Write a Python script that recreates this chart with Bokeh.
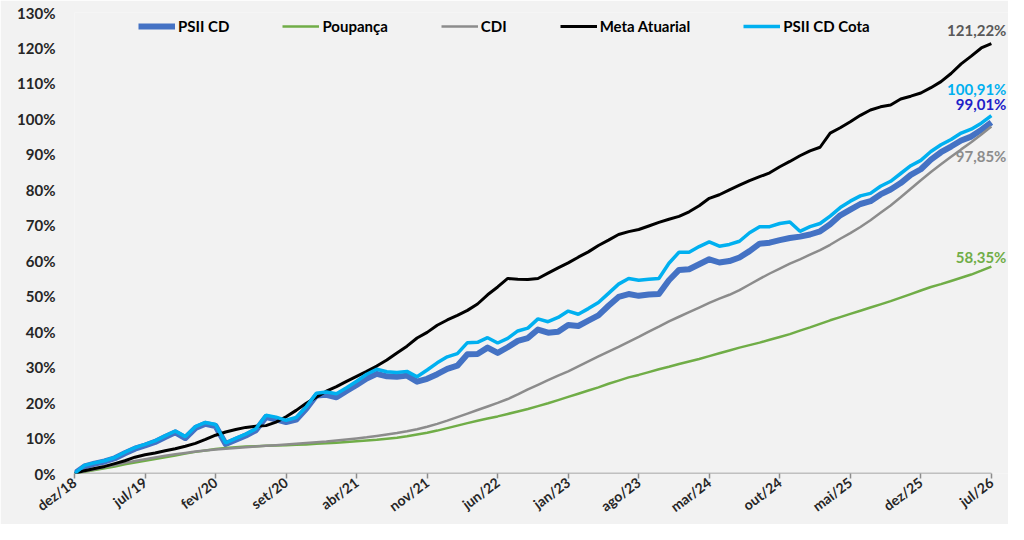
from bokeh.plotting import figure
from bokeh.models import Range1d, FixedTicker, Legend, LegendItem, Label
from bokeh.embed import file_html
from bokeh.resources import INLINE

tick_labels = ["dez/18", "jul/19", "fev/20", "set/20", "abr/21", "nov/21", "jun/22",
               "jan/23", "ago/23", "mar/24", "out/24", "mai/25", "dez/25", "jul/26"]
tick_positions = [0, 7, 14, 21, 28, 35, 42, 49, 56, 63, 70, 77, 84, 91]
months = list(range(92))

psii_cd = [0, 2.0, 2.8, 3.4, 4.3, 5.7, 7.0, 7.9, 8.9, 10.3,
           11.6, 10.0, 12.8, 14.0, 13.4, 8.3, 9.5, 10.7, 12.2, 15.9,
           15.3, 14.5, 15.2, 18.3, 22.0, 22.2, 21.5, 23.3, 25.0, 26.8,
           28.1, 27.4, 27.3, 27.6, 25.9, 26.7, 28.0, 29.5, 30.4, 33.6,
           33.7, 35.5, 34.0, 35.6, 37.4, 38.2, 40.6, 39.7, 40.0, 41.9,
           41.6, 43.1, 44.6, 47.3, 49.8, 50.6, 50.1, 50.5, 50.6, 54.5,
           57.4, 57.6, 59.0, 60.4, 59.5, 59.9, 60.9, 62.7, 64.8, 65.1,
           65.8, 66.4, 66.8, 67.4, 68.3, 70.3, 72.8, 74.4, 76.0, 76.8,
           78.7, 80.1, 81.9, 84.2, 85.8, 88.5, 90.6, 92.2, 93.9, 95.0,
           96.9, 99.01]

poupanca = [0, 0.5, 1.0, 1.5, 2.0, 2.6, 3.1, 3.6, 4.1, 4.6,
            5.1, 5.6, 6.1, 6.5, 6.9, 7.2, 7.4, 7.6, 7.7, 7.8,
            7.9, 8.0, 8.1, 8.2, 8.4, 8.5, 8.7, 8.9, 9.1, 9.3,
            9.5, 9.8, 10.1, 10.5, 11.0, 11.5, 12.1, 12.8, 13.5, 14.2,
            14.9, 15.5, 16.1, 16.8, 17.5, 18.2, 19.0, 19.8, 20.7, 21.6,
            22.5, 23.4, 24.3, 25.3, 26.2, 27.1, 27.8, 28.6, 29.4, 30.1,
            30.9, 31.6, 32.3, 33.1, 33.9, 34.7, 35.5, 36.2, 36.9, 37.7,
            38.5, 39.3, 40.3, 41.2, 42.2, 43.2, 44.1, 45.0, 45.9, 46.8,
            47.7, 48.6, 49.6, 50.6, 51.6, 52.6, 53.4, 54.3, 55.2, 56.1,
            57.2, 58.35]

cdi = [0, 0.6, 1.2, 1.8, 2.4, 3.0, 3.5, 4.0, 4.5, 5.0,
       5.4, 5.8, 6.2, 6.5, 6.8, 7.0, 7.2, 7.4, 7.6, 7.8,
       8.0, 8.2, 8.4, 8.6, 8.8, 9.0, 9.3, 9.6, 9.9, 10.2,
       10.6, 11.0, 11.4, 11.9, 12.5, 13.2, 14.0, 14.9, 15.9, 16.9,
       17.9, 18.9, 19.9, 21.0, 22.3, 23.7, 25.0, 26.3, 27.6, 28.8,
       30.2, 31.6, 33.0, 34.4, 35.7, 37.1, 38.5, 40.0, 41.4, 42.9,
       44.2, 45.5, 46.8, 48.1, 49.3, 50.4, 51.7, 53.3, 54.9, 56.4,
       57.8, 59.2, 60.4, 61.7, 63.0, 64.5, 66.2, 67.8, 69.5, 71.4,
       73.5, 75.6, 77.9, 80.3, 82.7, 85.0, 87.2, 89.3, 91.4, 93.4,
       95.6, 97.85]

meta_atuarial = [0, 0.8, 1.4, 2.0, 2.8, 3.6, 4.6, 5.3, 5.8, 6.4,
                 7.0, 7.7, 8.5, 9.6, 10.8, 11.7, 12.4, 13.0, 13.3, 13.5,
                 14.5, 16.0, 17.8, 19.8, 21.5, 23.2, 24.5, 26.0, 27.4, 28.8,
                 30.3, 32.0, 34.0, 35.9, 38.2, 39.8, 41.8, 43.3, 44.6, 46.0,
                 47.8, 50.4, 52.6, 55.0, 54.8, 54.7, 55.0, 56.5, 58.0, 59.4,
                 61.0, 62.5, 64.3, 65.8, 67.4, 68.2, 68.8, 69.8, 70.8, 71.7,
                 72.5, 73.8, 75.5, 77.6, 78.6, 80.0, 81.3, 82.6, 83.7, 84.8,
                 86.5, 88.0, 89.6, 91.0, 92.0, 96.0, 97.5, 99.2, 101.0, 102.5,
                 103.4, 103.9, 105.6, 106.4, 107.3, 108.8, 110.5, 112.8, 115.5, 117.7,
                 120.0, 121.22]

psii_cd_cota = [0, 2.3, 3.0, 3.6, 4.5, 6.0, 7.3, 8.2, 9.2, 10.6,
                12.0, 10.4, 13.2, 14.4, 13.8, 8.6, 9.9, 11.1, 12.6, 16.4,
                15.9, 15.0, 15.8, 18.8, 22.6, 23.0, 22.5, 24.2, 26.0, 28.0,
                29.4, 28.7, 28.5, 28.8, 27.3, 29.2, 31.2, 32.9, 33.8, 36.9,
                37.0, 38.3, 36.8, 38.1, 40.2, 41.0, 43.6, 42.8, 44.0, 45.8,
                44.9, 46.5, 48.2, 50.8, 53.4, 55.0, 54.5, 54.8, 55.0, 59.3,
                62.4, 62.4, 64.0, 65.3, 64.1, 64.6, 65.5, 67.9, 69.6, 69.6,
                70.5, 70.9, 68.3, 69.6, 70.5, 72.6, 75.0, 76.8, 78.3, 79.0,
                81.0, 82.4, 84.6, 86.8, 88.3, 90.8, 92.7, 94.2, 96.0, 97.1,
                98.8, 100.91]

series_names = ["PSII CD", "Poupança", "CDI", "Meta Atuarial", "PSII CD Cota"]

FONT = "Lato"
BG = "#F2F2F2"

p = figure(width=1008, height=524, output_backend="svg", toolbar_location=None,
           x_range=Range1d(0, 92.7), y_range=Range1d(0, 130),
           min_border_left=74, min_border_right=0, min_border_top=12, min_border_bottom=49)
p.background_fill_color = BG
p.border_fill_color = BG
p.outline_line_color = None
p.xgrid.visible = False
p.ygrid.visible = False

# y axis
p.yaxis.ticker = FixedTicker(ticks=list(range(0, 131, 10)))
p.yaxis.major_label_overrides = {v: f"{v}%" for v in range(0, 131, 10)}
p.yaxis.axis_line_color = None
p.yaxis.major_tick_line_color = None
p.yaxis.minor_tick_line_color = None
p.yaxis.major_label_text_font = FONT
p.yaxis.major_label_text_font_style = "bold"
p.yaxis.major_label_text_font_size = "15px"
p.yaxis.major_label_text_color = "#262626"
p.yaxis.major_label_standoff = 13

# x axis (line drawn only over the data span)
p.xaxis.ticker = FixedTicker(ticks=tick_positions)
p.xaxis.major_label_overrides = {t: l for t, l in zip(tick_positions, tick_labels)}
p.xaxis.axis_line_color = None
p.xaxis.major_tick_line_color = "#8C8C8C"
p.xaxis.major_tick_line_width = 1.5
p.xaxis.major_tick_in = 0
p.xaxis.major_tick_out = 5
p.xaxis.minor_tick_line_color = None
p.xaxis.major_label_orientation = 0.64
p.xaxis.major_label_text_font = FONT
p.xaxis.major_label_text_font_style = "bold"
p.xaxis.major_label_text_font_size = "14px"
p.xaxis.major_label_text_color = "#262626"
p.xaxis.major_label_standoff = 2
p.segment(x0=months[0], y0=0, x1=months[-1], y1=0, line_color="#8C8C8C", line_width=1.5)

r_cd = p.line(months, psii_cd, line_color="#4472C4", line_width=6, line_join="round")
r_poup = p.line(months, poupanca, line_color="#70AD47", line_width=2.5)
r_cdi = p.line(months, cdi, line_color="#8C8C8C", line_width=2.5)
r_meta = p.line(months, meta_atuarial, line_color="#000000", line_width=3)
r_cota = p.line(months, psii_cd_cota, line_color="#00B0F0", line_width=3.5)

legend = Legend(items=[LegendItem(label=n, renderers=[r]) for n, r in
                       zip(series_names, [r_cd, r_poup, r_cdi, r_meta, r_cota])],
                orientation="horizontal", location=(64, 437),
                background_fill_alpha=0, border_line_color=None,
                padding=0, margin=0, spacing=53, glyph_width=37, glyph_height=20,
                label_standoff=3, label_text_font=FONT, label_text_font_style="bold",
                label_text_font_size="15px", label_text_color="#000000")
p.add_layout(legend, "center")

end_labels = [
    (meta_atuarial[-1], "#595959", 14),
    (psii_cd_cota[-1], "#00B0F0", 27),
    (psii_cd[-1], "#2020C8", 18),
    (cdi[-1], "#8C8C8C", -29),
    (poupanca[-1], "#70AD47", 10),
]
for val, col, off in end_labels:
    txt = f"{val:.2f}%".replace(".", ",")
    p.add_layout(Label(x=months[-1], y=val, x_units="data", y_units="data",
                       x_offset=15, y_offset=off, text=txt, text_align="right",
                       text_baseline="middle", text_font=FONT, text_font_style="bold",
                       text_font_size="15px", text_color=col))

open("out.html", "w").write(file_html(p, INLINE))
